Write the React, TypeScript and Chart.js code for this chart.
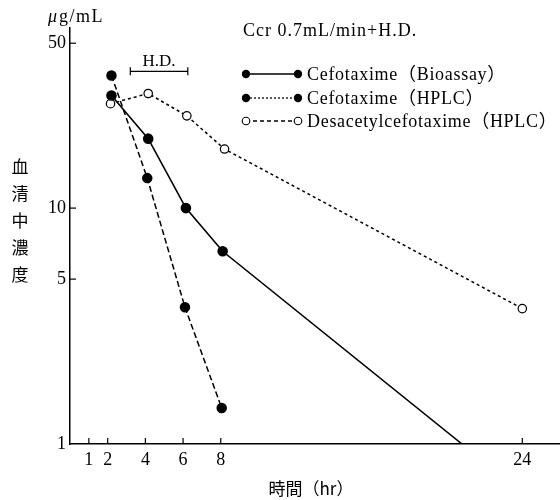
import React, { useEffect, useRef } from "react";
import { Chart, registerables } from "chart.js";

Chart.register(...registerables);

// ---- data ----
const bioX = [2.2, 4.15, 6.15, 8.1, 20.8];
const bioY = [30, 19.7, 10, 6.56, 1];
const hplcX = [2.2, 4.1, 6.1, 8.05];
const hplcY = [36.5, 13.4, 3.8, 1.42];
const desX = [2.15, 4.15, 6.2, 8.2, 24];
const desY = [27.7, 30.6, 24.6, 17.8, 3.75];
const xTicks = [1, 2, 4, 6, 8, 24];
const yTicks = [1, 5, 10, 50];
const xMax = 26;
const hdStart = 3.2;
const hdEnd = 6.25;
const hdLevel = 38;
const legendLabels = [
  "Cefotaxime（Bioassay）",
  "Cefotaxime（HPLC）",
  "Desacetylcefotaxime（HPLC）",
];
const noteText = "Ccr 0.7mL/min+H.D.";
const yTitleChars = ["血", "清", "中", "濃", "度"];
const xTitle = "時間（hr）";
const unitText = "μg/mL";
const hdText = "H.D.";

const SERIF = "'Liberation Serif', 'DejaVu Serif', 'Noto Sans CJK JP', serif";
const CJK = "'Noto Sans CJK JP', 'Liberation Serif', serif";

const toPts = (xs: number[], ys: number[]) => xs.map((x, i) => ({ x, y: ys[i] }));

const overlay = {
  id: "overlay",
  afterDraw(chart: any) {
    const ctx = chart.ctx as any;
    const xs = chart.scales.x;
    const ys = chart.scales.y;
    const area = chart.chartArea;
    ctx.save();
    ctx.strokeStyle = "#000";
    ctx.fillStyle = "#000";
    ctx.lineWidth = 1.2;
    // inward tick marks
    xTicks.forEach((v) => {
      const px = xs.getPixelForValue(v);
      ctx.beginPath();
      ctx.moveTo(px, area.bottom);
      ctx.lineTo(px, area.bottom - 6);
      ctx.stroke();
    });
    yTicks.forEach((v) => {
      if (v === 1) return;
      const py = ys.getPixelForValue(v);
      ctx.beginPath();
      ctx.moveTo(area.left, py);
      ctx.lineTo(area.left + 6, py);
      ctx.stroke();
    });
    // H.D. bar
    const hy = ys.getPixelForValue(hdLevel);
    const h1 = xs.getPixelForValue(hdStart);
    const h2 = xs.getPixelForValue(hdEnd);
    ctx.beginPath();
    ctx.moveTo(h1, hy);
    ctx.lineTo(h2, hy);
    ctx.moveTo(h1, hy - 4);
    ctx.lineTo(h1, hy + 4);
    ctx.moveTo(h2, hy - 4);
    ctx.lineTo(h2, hy + 4);
    ctx.stroke();
    ctx.font = `17px ${SERIF}`;
    ctx.textAlign = "center";
    ctx.textBaseline = "alphabetic";
    ctx.fillText(hdText, (h1 + h2) / 2, hy - 5);

    // unit
    ctx.textAlign = "left";
    ctx.letterSpacing = "1.5px";
    ctx.font = `italic 18px ${SERIF}`;
    ctx.fillText(unitText.slice(0, 1), 48, 22);
    ctx.font = `18px ${SERIF}`;
    ctx.fillText(unitText.slice(1), 59, 22);

    // note
    ctx.letterSpacing = "1px";
    ctx.font = `18px ${SERIF}`;
    ctx.fillText(noteText, 243, 36);

    // legend
    const rows = [74, 98, 121];
    const lx1 = 246;
    const lx2 = 298;
    rows.forEach((ry, i) => {
      ctx.beginPath();
      ctx.lineWidth = 1.3;
      if (i === 0) ctx.setLineDash([]);
      else if (i === 1) ctx.setLineDash([2, 2]);
      else ctx.setLineDash([4, 3]);
      ctx.moveTo(lx1, ry);
      ctx.lineTo(lx2, ry);
      ctx.stroke();
      ctx.setLineDash([]);
      [lx1, lx2].forEach((cx) => {
        ctx.beginPath();
        ctx.arc(cx, ry, i === 2 ? 3.8 : 4.2, 0, Math.PI * 2);
        if (i === 2) {
          ctx.fillStyle = "#fff";
          ctx.fill();
          ctx.lineWidth = 1.1;
          ctx.stroke();
        } else {
          ctx.fillStyle = "#000";
          ctx.fill();
        }
      });
      ctx.fillStyle = "#000";
      ctx.font = `18px ${SERIF}`;
      ctx.letterSpacing = "0.7px";
      ctx.textBaseline = "middle";
      ctx.fillText(legendLabels[i], 307, ry + 1);
    });
    ctx.letterSpacing = "0px";

    // y title (vertical)
    ctx.font = `17px ${CJK}`;
    ctx.textAlign = "center";
    ctx.textBaseline = "middle";
    yTitleChars.forEach((c, i) => {
      ctx.fillText(c, 20, 167 + i * 27);
    });
    // x title
    ctx.font = `17px ${CJK}`;
    ctx.fillText(xTitle, 311, 489);
    ctx.restore();
  },
};

export default function App() {
  const ref = useRef<HTMLCanvasElement | null>(null);
  useEffect(() => {
    if (!ref.current) return;
    const chart = new Chart(ref.current, {
      type: "line",
      data: {
        datasets: [
          {
            label: legendLabels[0],
            data: toPts(bioX, bioY),
            borderColor: "#000",
            backgroundColor: "#000",
            borderWidth: 1.6,
            pointRadius: bioX.map((_, i) => (i === bioX.length - 1 ? 0 : 4.5)),
            pointBackgroundColor: "#000",
            pointBorderColor: "#000",
            borderDash: [],
            tension: 0,
          },
          {
            label: legendLabels[1],
            data: toPts(hplcX, hplcY),
            borderColor: "#000",
            backgroundColor: "#000",
            borderWidth: 1.5,
            pointRadius: 4.5,
            pointBackgroundColor: "#000",
            pointBorderColor: "#000",
            borderDash: [6, 3],
            tension: 0,
          },
          {
            label: legendLabels[2],
            data: toPts(desX, desY),
            borderColor: "#000",
            backgroundColor: "#fff",
            borderWidth: 1.5,
            pointRadius: 4.2,
            pointBorderWidth: 1.2,
            pointBackgroundColor: "#fff",
            pointBorderColor: "#000",
            borderDash: [3, 3],
            tension: 0,
          },
        ],
      },
      options: {
        animation: false,
        responsive: false,
        maintainAspectRatio: false,
        layout: { autoPadding: false, padding: { top: 28, right: 0, left: 0, bottom: 0 } },
        plugins: {
          legend: { display: false },
          tooltip: { enabled: false },
        },
        scales: {
          x: {
            type: "linear",
            min: 0,
            max: xMax,
            afterBuildTicks: (s: any) => {
              s.ticks = xTicks.map((v) => ({ value: v }));
            },
            afterFit: (s: any) => {
              s.height = 56;
              s.paddingRight = 0;
              s.paddingLeft = 0;
            },
            grid: { display: false, drawTicks: false },
            border: { display: true, color: "#000", width: 1.5 },
            ticks: {
              color: "#000",
              padding: 5,
              autoSkip: false,
              maxRotation: 0,
              font: { family: SERIF, size: 18 },
              callback: (v: any) => String(v),
            },
          },
          y: {
            type: "logarithmic",
            min: 1,
            max: 58,
            afterBuildTicks: (s: any) => {
              s.ticks = yTicks.map((v) => ({ value: v }));
            },
            afterFit: (s: any) => {
              s.width = 70;
            },
            grid: { display: false, drawTicks: false },
            border: { display: true, color: "#000", width: 1.5 },
            ticks: {
              color: "#000",
              padding: 4,
              autoSkip: false,
              font: { family: SERIF, size: 18 },
              callback: (v: any) => String(v),
            },
          },
        },
      },
      plugins: [overlay],
    });
    return () => chart.destroy();
  }, []);
  return (
    <div style={{ position: "fixed", left: 0, top: 0, width: 560, height: 500, background: "#fff" }}>
      <canvas ref={ref} width={560} height={500} style={{ width: 560, height: 500, display: "block" }} />
    </div>
  );
}
